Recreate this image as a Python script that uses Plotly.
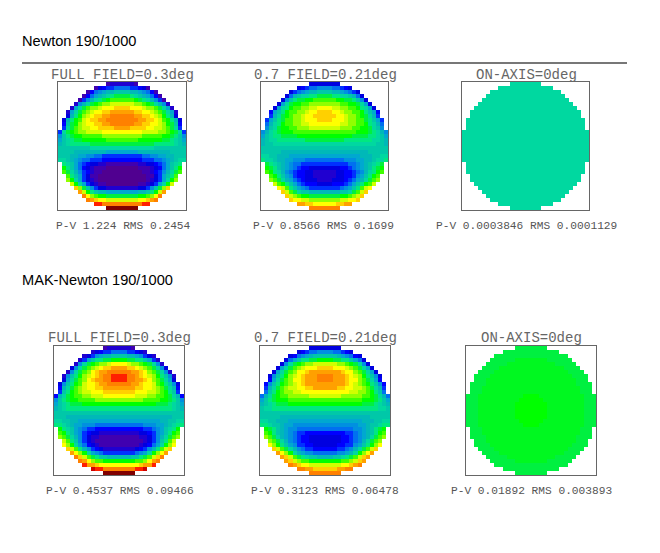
import numpy as np
import plotly.graph_objects as go

# Wavefront maps on a 32 x 32 pupil grid. Each row lists false-colour levels
# from the pupil centre outward (A = lowest, Y = highest, lower case = half a
# level above); the pupil is mirror-symmetric about its vertical axis.
newton_full = [
    "CCCB", "GGFFEDB", "KKJJIHGEB", "NNMLKJIGEB", "PPPONMLJHFB", "RRRQQPONLJHC",
    "TTSSSRQQPNLIC", "UUUTTSSRQPNLIC", "VVVUUTTSRQOMJD", "VVVVUUTTSRPOMJD",
    "VVVUUTTSSRQONKE", "UUTTTTSSRRQPNLF", "SSSSSRRRRQQPONLF", "QQQQQPPPPPOONMKH",
    "PPPPOOOOOONNMLKI", "NNNNNNNNMMMMMLKJ", "LLLLLLLLKKKKKKKK", "IIIIJJJJJJJJKKKK",
    "FFFFFGGHHIIJJKKK", "EEEEEFFFGGHIJKLL", "BBBBCCDDEFGIKLM", "AAAABBBCDEGIKMO",
    "AAAAABBCEFHJLNP", "AAAAAABBDFIKMP", "AAAAAABCDFILOQ", "AAAABBCDFILOR",
    "CCCCDDFHKNQT", "IIIIJJKMORU", "NNNNOOPQSV", "RRRRSSTUV", "VVVVVWW", "YYYY",
]
newton_07 = [
    "DDDD", "HHGGFED", "KKJJIHGFD", "NNMMLLKJGD", "PPPOONNMKHD", "QQQQPPOONLID",
    "SSRRQQPPOMLID", "TTSSRQQPPOMKIE", "TTTSSRQQPONLJF", "TTSSSRQQPPNMKIF",
    "SSSSRRQQPPOMLJG", "RRRRQQQPPOONLKH", "PPPPPPPPOOONMLJH", "OOOOOOONNNNMMLKI",
    "NNNNNMMMMMMMLLKJ", "LLLLLLLLLLLLLKKJ", "KKKKKKKKKKKKKKKK", "JJJJJJJJJJJKKKKK",
    "IIIIIIIIIJJJKKLL", "GGGGGHHHIIJJKLLM", "FFFFFFGGHIJKLMN", "DDDDEEFGHIJKMNO",
    "CCCDDEEFGHJLMOP", "CCCDDEEFHIKMOP", "CCDDDEFGIJLNPQ", "DDEEEFGIKMOPR",
    "FFFFGHIKMPRS", "JJJJKKLNPRT", "NNNNOOPQRT", "QQQQRRSST", "SSSTTUU", "VVVV",
]
newton_axis = [
    "LLLL", "LLLLLLL", "LLLLLLLLL", "LLLLLLLLLL", "LLLLLLLLLLL", "LLLLLLLLLLLL",
    "LLLLLLLLLLLLL", "LLLLLLLLLLLLLL", "LLLLLLLLLLLLLL", "LLLLLLLLLLLLLLL",
    "LLLLLLLLLLLLLLL", "LLLLLLLLLLLLLLL", "LLLLLLLLLLLLLLLL", "LLLLLLLLLLLLLLLL",
    "LLLLLLLLLLLLLLLL", "LLLLLLLLLLLLLLLL", "LLLLLLLLLLLLLLLL", "LLLLLLLLLLLLLLLL",
    "LLLLLLLLLLLLLLLL", "LLLLLLLLLLLLLLLL", "LLLLLLLLLLLLLLL", "LLLLLLLLLLLLLLL",
    "LLLLLLLLLLLLLLL", "LLLLLLLLLLLLLL", "LLLLLLLLLLLLLL", "LLLLLLLLLLLLL",
    "LLLLLLLLLLLL", "LLLLLLLLLLL", "LLLLLLLLLL", "LLLLLLLLL", "LLLLLLL", "LLLL",
]
mak_full = [
    "CCCB", "GGFFEDC", "KKJJIHFDC", "OONNMMKIFC", "SSRQQPONLHC", "UUTTSRQPNLHD",
    "VVVUUTSQPNLHC", "WWVVUTSRQOMKHC", "WWVVUUTSQPNLID", "VVVUUTSSRPOMKHD",
    "UUUUTTSSRQPNLJE", "TTTTSSSRRQPOMKF", "SSSSRRRQQPPONLJE", "QQQQQQPPPPOONMKH",
    "OOOOOOOOONNNMLKI", "MMMMMMMMMMMMMLKJ", "KKKKKKKKKKKKKKKK", "JJJJJJJJJJJJJKKK",
    "IIIIIIIIIIJJKKLL", "GGGGGGHHHIIJKLMM", "EEEEEEFFGHIKLMO", "CCCCCDDEFHIKMOP",
    "BBBBBCCDFHJLNPQ", "BBBBBBCDFHKMPR", "BBBBBCDEGILOQS", "CCCCDEFHJMPRT",
    "FFFFGHILOQSU", "JJJKKMNPRTV", "OOOOPPQSUV", "SSSSSTUUW", "VVVVWWX", "YYYY",
]
mak_07 = [
    "DDDD", "HHGGFED", "KKKJIHGED", "OONNMMKIGD", "RRRQQPONLHD", "TTSSSRQPNLID",
    "UUUUTSSQPNLID", "VVUUUTSRQOMKHD", "VVUUUTSSQPNLIE", "UUUUUTSRQPOMKHE",
    "UUUTTSSRRQPNLJF", "SSSSSSRRQQPOMKG", "RRRRQQQQQPPONLJG", "PPPPPPPPPOOONMKI",
    "OOOOOOOOONNNMLKJ", "MMMMMMMMMMMMMLLK", "KKKKKKKKKKKKKKKK", "JJJJJJJJJJJKKKKK",
    "IIIIIIIIIJJJKKLL", "HHHHHHHHIIJKKLMM", "GGGGGGGHHIJKMNO", "EEEEEFFGHIJKMOP",
    "DDDDEEFGHIJLNPQ", "DDDDEEFGHJLNPQ", "DDDEEFFHIKMOQS", "EEEFFGHJLNPRT",
    "GGGHHIJLOQSU", "JJKKLMNPRTU", "OOOOPPQRTU", "RRRRSSTUV", "TTTUUVV", "VVVV",
]
mak_axis = [
    "NNNN", "NNNNNNN", "NNNNNNNNN", "nnnnNNNNNN", "nnnnnnNNNNN", "nnnnnnnnNNNN",
    "nnnnnnnnnNNNN", "nnnnnnnnnnNNNN", "nnnnnnnnnnnNNN", "nnnnnnnnnnnNNNN",
    "nnnnnnnnnnnnNNN", "nnnnnnnnnnnnNNN", "OOnnnnnnnnnnnNNN", "OOOnnnnnnnnnnNNN",
    "OOOOnnnnnnnnnNNN", "OOOOnnnnnnnnnNNN", "OOOOnnnnnnnnnNNN", "OOOOnnnnnnnnnNNN",
    "OOOnnnnnnnnnnNNN", "OOnnnnnnnnnnnNNN", "nnnnnnnnnnnnNNN", "nnnnnnnnnnnnNNN",
    "nnnnnnnnnnnNNNN", "nnnnnnnnnnnNNN", "nnnnnnnnnnNNNN", "nnnnnnnnnNNNN",
    "nnnnnnnnNNNN", "nnnnnnNNNNN", "nnnnNNNNNN", "NNNNNNNNN", "NNNNNNN", "NNNN",
]

section_titles = ["Newton 190/1000", "MAK-Newton 190/1000"]
panel_titles = ["FULL FIELD=0.3deg", "0.7 FIELD=0.21deg", "ON-AXIS=0deg"] * 2
panel_stats = [
    "P-V 1.224 RMS 0.2454", "P-V 0.8566 RMS 0.1699", "P-V 0.0003846 RMS 0.0001129",
    "P-V 0.4537 RMS 0.09466", "P-V 0.3123 RMS 0.06478", "P-V 0.01892 RMS 0.003893",
]
panel_maps = [newton_full, newton_07, newton_axis, mak_full, mak_07, mak_axis]

# False-colour ramp, one colour per level A..Y.
palette = [
    "#500090", "#4000b0", "#2000d0", "#0000e0", "#0000ff", "#0030ff", "#0070f0",
    "#0090e0", "#00a8d0", "#00b8b8", "#00c8a8", "#00d8a0", "#00e880", "#00f040",
    "#00ff00", "#40ff00", "#90ff00", "#d0ff00", "#ffff00", "#ffd000", "#ffa000",
    "#ff8000", "#ff2000", "#d00000", "#800000",
]
colorscale = [[i / (len(palette) - 1), c] for i, c in enumerate(palette)]

# Plot boxes in page pixels: left, right, top, bottom.
W, H = 660, 553
boxes = [
    (58, 186, 82, 210), (261, 388, 82, 210), (462, 589, 82, 210),
    (54, 184, 346, 475), (260, 390, 346, 475), (466, 596, 346, 475),
]
title_anchor = [(122, 75), (325, 75), (526, 75), (119, 338), (325, 338), (531, 338)]
stats_anchor = [(123, 226), (323, 226), (526, 226), (120, 491), (325, 491), (531, 491)]


def level(ch):
    return ord(ch) - 65 if ch.isupper() else ord(ch) - 97 + 0.5


def expand(rows):
    """Unfold centre-outward half rows into a full grid, blank outside the pupil."""
    grid = np.full((32, 32), np.nan)
    for r, half in enumerate(rows):
        for c, ch in enumerate(half):
            grid[r, 16 + c] = level(ch)
            grid[r, 15 - c] = level(ch)
    return grid


fig = go.Figure()
layout = {}
annotations = []

for i, (rows, box) in enumerate(zip(panel_maps, boxes), start=1):
    suffix = "" if i == 1 else str(i)
    fig.add_trace(go.Heatmap(
        z=expand(rows), xaxis="x" + suffix, yaxis="y" + suffix,
        colorscale=colorscale, zmin=0, zmax=len(palette) - 1,
        showscale=False, hoverongaps=False,
    ))
    left, right, top, bottom = box
    common = dict(showgrid=False, zeroline=False, showticklabels=False, ticks="",
                  showline=True, mirror=True, linecolor="#666666", linewidth=1)
    layout["xaxis" + suffix] = dict(domain=[left / W, right / W], range=[-0.5, 31.5],
                                    anchor="y" + suffix, **common)
    layout["yaxis" + suffix] = dict(domain=[1 - bottom / H, 1 - top / H], range=[31.5, -0.5],
                                    anchor="x" + suffix, **common)

    tx, ty = title_anchor[i - 1]
    annotations.append(dict(
        text=panel_titles[i - 1], x=tx / W, y=1 - ty / H, xref="paper", yref="paper",
        showarrow=False, xanchor="center", yanchor="middle",
        font=dict(family="Liberation Mono", size=14, color="#666666"),
    ))
    sx, sy = stats_anchor[i - 1]
    annotations.append(dict(
        text=panel_stats[i - 1], x=sx / W, y=1 - sy / H, xref="paper", yref="paper",
        showarrow=False, xanchor="center", yanchor="middle",
        font=dict(family="Liberation Mono", size=11.2, color="#555555"),
    ))

for text, py in zip(section_titles, (41, 280)):
    annotations.append(dict(
        text=text, x=20 / W, y=1 - py / H, xref="paper", yref="paper",
        showarrow=False, xanchor="left", yanchor="middle",
        font=dict(family="Liberation Sans", size=14.6, color="#000000"),
    ))

fig.update_layout(
    width=W, height=H, margin=dict(l=0, r=0, t=0, b=0),
    paper_bgcolor="white", plot_bgcolor="white",
    annotations=annotations,
    shapes=[dict(type="line", xref="paper", yref="paper", x0=22 / W, x1=627 / W,
                 y0=1 - 63 / H, y1=1 - 63 / H, line=dict(color="#777777", width=2))],
    **layout,
)
fig.write_html("out.html")
